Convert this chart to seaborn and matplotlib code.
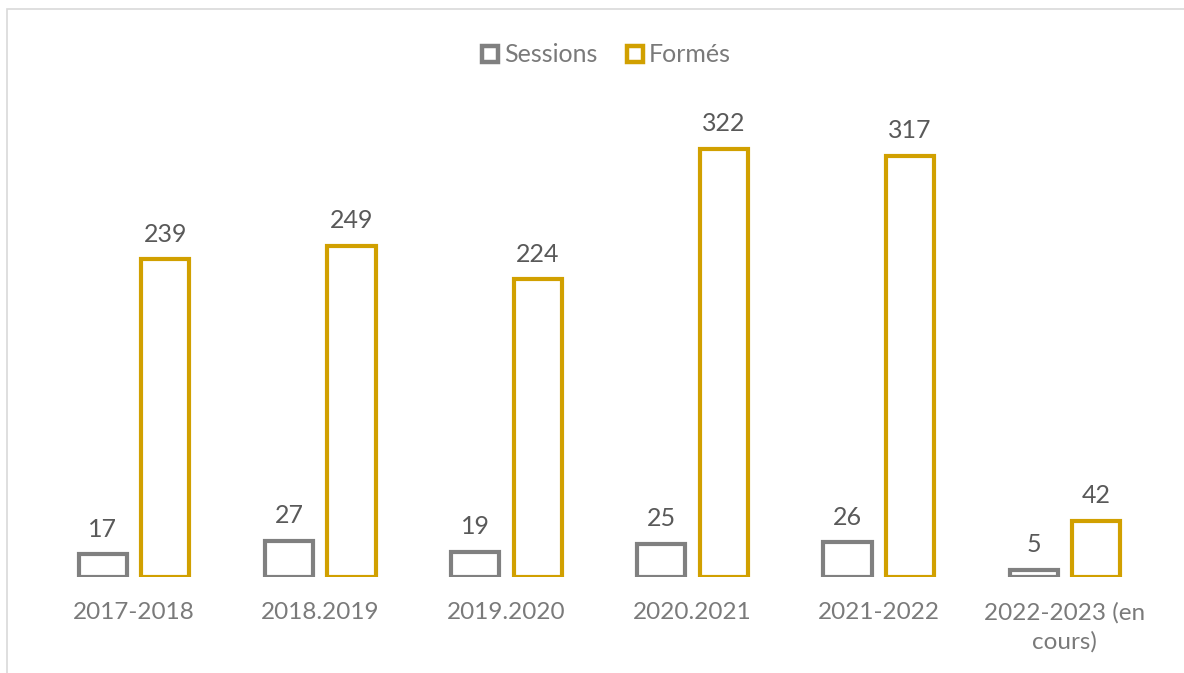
import matplotlib
matplotlib.use("Agg")
import matplotlib.pyplot as plt
import seaborn as sns
import pandas as pd
from matplotlib.lines import Line2D
from matplotlib.patches import Rectangle

categories = ["2017-2018", "2018.2019", "2019.2020", "2020.2021", "2021-2022", "2022-2023 (en\ncours)"]
sessions = [17, 27, 19, 25, 26, 5]
formes = [239, 249, 224, 322, 317, 42]
series_names = ["Sessions", "Formés"]
colors = {"Sessions": "#808080", "Formés": "#D1A000"}

sns.set_theme(style="white")
plt.rcParams['font.family'] = ['Lato', 'DejaVu Sans']

df = pd.DataFrame({
    "cat": categories * 2,
    "series": ["Sessions"] * len(categories) + ["Formés"] * len(categories),
    "val": sessions + formes,
})

fig = plt.figure(figsize=(11.84, 6.73), dpi=100)
ax = fig.add_axes([41 / 1184, 96 / 673, (1158 - 41) / 1184, 465 / 673])

sns.barplot(data=df, x="cat", y="val", hue="series", hue_order=series_names,
            palette=colors, fill=False, linewidth=3, width=0.672, gap=0.23,
            ax=ax, legend=False, errorbar=None)

for p in ax.patches:
    p.set_facecolor("white")

for cont in ax.containers:
    ax.bar_label(cont, fmt="%d", padding=10, color="#595959", fontsize=18)

ax.set_ylim(0, 350)
ax.set_xlim(-0.5, len(categories) - 0.5)
ax.set_xlabel("")
ax.set_ylabel("")
ax.set_yticks([])
for s in ax.spines.values():
    s.set_visible(False)
ax.tick_params(axis="x", length=0, pad=18, labelsize=17.5, labelcolor="#7a7a7a")
for lab in ax.get_xticklabels():
    lab.set_linespacing(1.45)
ax.set_facecolor("none")

handles = [Line2D([], [], marker="s", linestyle="none", markersize=11.5,
                  markerfacecolor="white", markeredgecolor=colors[n], markeredgewidth=3.2)
           for n in series_names]
fig.legend(handles, series_names, loc="center", bbox_to_anchor=(604 / 1184, 1 - 55 / 673),
           ncol=2, frameon=False, fontsize=18, labelcolor="#7a7a7a",
           handletextpad=0.05, columnspacing=1.0, handlelength=1.0)

fig.patches.append(Rectangle((7 / 1184, -0.1), 1.2, 1 - 9 / 673 + 0.1,
                             transform=fig.transFigure, fill=False,
                             edgecolor="#d9d9d9", linewidth=1.2, zorder=-1))

fig.savefig("out.png", dpi=100, facecolor="white")
